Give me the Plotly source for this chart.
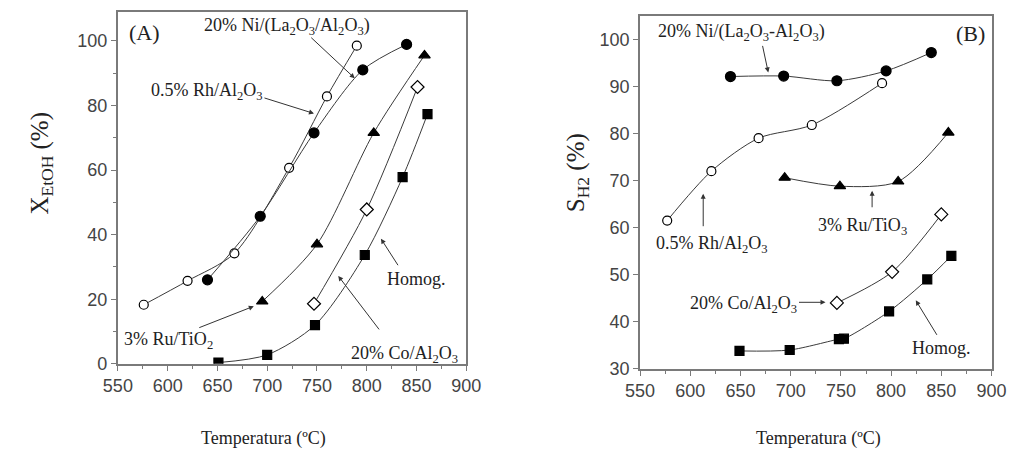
import plotly.graph_objects as go

# ---- Panel A: ethanol conversion X_EtOH (%) vs temperature ----
a_rh_t = [576, 620, 667, 722, 760, 790]
a_rh_x = [18.3, 25.7, 34.2, 60.7, 82.8, 98.5]
a_ni_t = [640, 693, 747, 796, 840]
a_ni_x = [26.0, 45.7, 71.5, 91.0, 98.9]
a_ru_t = [695, 750, 807, 858]
a_ru_x = [19.3, 37.0, 71.5, 95.5]
a_co_t = [747, 800, 851]
a_co_x = [18.6, 47.8, 85.7]
a_hom_t = [651, 700, 748, 798, 836, 861]
a_hom_x = [0.4, 2.8, 12.0, 33.7, 57.8, 77.3]

# ---- Panel B: H2 selectivity S_H2 (%) vs temperature ----
b_ni_t = [640, 693, 746, 795, 840]
b_ni_s = [92.1, 92.2, 91.2, 93.3, 97.2]
b_rh_t = [577, 621, 668, 721, 791]
b_rh_s = [61.5, 72.0, 79.0, 81.8, 90.7]
b_ru_t = [694, 749, 807, 857]
b_ru_s = [70.6, 68.8, 69.8, 80.2]
b_co_t = [746, 801, 850]
b_co_s = [44.0, 50.6, 62.8]
b_hom_t = [649, 699, 748, 753, 798, 836, 860]
b_hom_s = [33.8, 34.0, 36.3, 36.4, 42.2, 49.0, 54.0]

x_ticks = [550, 600, 650, 700, 750, 800, 850, 900]

LINE = dict(color="#3a3a3a", width=1, shape="spline", smoothing=0.8)
SERIF = "Liberation Serif, Times New Roman, serif"
SANS = "Liberation Sans, Arial, sans-serif"


def series(t, v, symbol, filled, xa, ya, size=9):
    return go.Scatter(
        x=t, y=v, mode="lines+markers", xaxis=xa, yaxis=ya,
        line=LINE,
        marker=dict(symbol=symbol, size=size,
                    color="black" if filled else "white",
                    line=dict(color="black", width=1.2)),
        showlegend=False, hoverinfo="x+y",
    )


fig = go.Figure()
# panel A
fig.add_trace(series(a_rh_t, a_rh_x, "circle", False, "x", "y"))
fig.add_trace(series(a_ni_t, a_ni_x, "circle", True, "x", "y", 10))
fig.add_trace(series(a_ru_t, a_ru_x, "triangle-up", True, "x", "y", 10))
fig.add_trace(series(a_co_t, a_co_x, "diamond", False, "x", "y", 10))
fig.add_trace(series(a_hom_t, a_hom_x, "square", True, "x", "y"))
# panel B
fig.add_trace(series(b_ni_t, b_ni_s, "circle", True, "x2", "y2", 10))
fig.add_trace(series(b_rh_t, b_rh_s, "circle", False, "x2", "y2"))
fig.add_trace(series(b_ru_t, b_ru_s, "triangle-up", True, "x2", "y2", 10))
fig.add_trace(series(b_co_t, b_co_s, "diamond", False, "x2", "y2", 10))
fig.add_trace(series(b_hom_t, b_hom_s, "square", True, "x2", "y2"))

AX = dict(showline=True, linecolor="#7a7a7a", linewidth=2, mirror=True,
          ticks="outside", ticklen=5, tickcolor="#7a7a7a", tickwidth=1,
          showgrid=False, zeroline=False,
          tickfont=dict(family=SANS, size=18, color="#444444"))

fig.update_layout(
    width=1023, height=462,
    margin=dict(l=0, r=0, t=0, b=0),
    paper_bgcolor="white", plot_bgcolor="white",
    xaxis=dict(AX, domain=[0.1036, 0.4545], range=[550, 900],
               tickvals=x_ticks, anchor="y",
               minor=dict(dtick=25, tick0=550, ticks="outside", ticklen=3,
                          tickcolor="#7a7a7a")),
    yaxis=dict(AX, domain=[0.195, 0.974], range=[0, 109],
               tickvals=[0, 20, 40, 60, 80, 100], anchor="x",
               minor=dict(dtick=10, tick0=0, ticks="outside", ticklen=3,
                          tickcolor="#7a7a7a")),
    xaxis2=dict(AX, domain=[0.6295, 0.9834], range=[550, 900],
                tickvals=x_ticks, anchor="y2",
                minor=dict(dtick=25, tick0=550, ticks="outside", ticklen=3,
                           tickcolor="#7a7a7a")),
    yaxis2=dict(AX, domain=[0.184, 0.965], range=[30, 105],
                tickvals=[30, 40, 50, 60, 70, 80, 90, 100], anchor="x2"),
)

ann = []


def px(xp, yp):
    return xp / 1023, 1 - yp / 462


def label(text, xp, yp, size=18, **kw):
    x, y = px(xp, yp)
    ann.append(dict(text=text, x=x, y=y, xref="paper", yref="paper",
                    xanchor="center", yanchor="middle", showarrow=False,
                    font=dict(family=SERIF, size=size, color="#222222"), **kw))


def arrow(x0, y0, x1, y1):
    # tail at (x0, y0), head at (x1, y1), both in page pixels
    hx, hy = px(x1, y1)
    ann.append(dict(x=hx, y=hy, ax=x0 - x1, ay=y0 - y1,
                    xref="paper", yref="paper", axref="pixel", ayref="pixel",
                    text="", showarrow=True, arrowhead=2, arrowsize=1,
                    arrowwidth=1, arrowcolor="#333333"))


# panel A labels
label("(A)", 133, 33, 22)
label("20% Ni/(La<sub>2</sub>O<sub>3</sub>/Al<sub>2</sub>O<sub>3</sub>)", 280, 27)
arrow(305, 38, 350, 80)
label("0.5% Rh/Al<sub>2</sub>O<sub>3</sub>", 198, 94)
arrow(257, 100, 308, 116)
label("3% Ru/TiO<sub>2</sub>", 158, 348)
arrow(190, 335, 246, 313)
label("20% Co/Al<sub>2</sub>O<sub>3</sub>", 401, 362)
arrow(375, 337, 333, 282)
label("Homog.", 414, 285)
arrow(395, 272, 377, 244)

# panel B labels
label("(B)", 984, 34, 22)
label("20% Ni/(La<sub>2</sub>O<sub>3</sub>-Al<sub>2</sub>O<sub>3</sub>)", 748, 33)
arrow(770, 46, 776, 74)
label("0.5% Rh/Al<sub>2</sub>O<sub>3</sub>", 718, 250)
arrow(709, 232, 709, 198)
label("3% Ru/TiO<sub>3</sub>", 873, 232)
arrow(883, 213, 883, 195)
label("20% Co/Al<sub>2</sub>O<sub>3</sub>", 750, 311)
arrow(807, 309, 835, 309)
label("Homog.", 955, 356)
arrow(950, 343, 928, 307)

# axis titles
label("X<sub>EtOH</sub> (%)", 27, 167, 25, textangle=-90)
label("S<sub>H2</sub> (%)", 579, 177, 25, textangle=-90)
label("Temperatura (ºC)", 256, 448, 18)
label("Temperatura (ºC)", 828, 448, 18)

fig.update_layout(annotations=ann)
fig.write_html("out.html")
